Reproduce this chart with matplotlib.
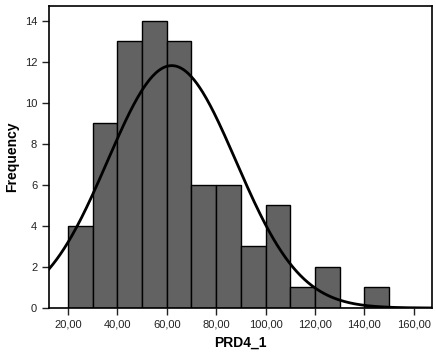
import numpy as np
import matplotlib.pyplot as plt
from matplotlib.ticker import FuncFormatter

plt.rcParams['font.family'] = ['Liberation Sans', 'DejaVu Sans']

# Histogram bins (width 10) and counts of PRD4_1
bin_edges = [20, 30, 40, 50, 60, 70, 80, 90, 100, 110, 120, 130, 140, 150]
counts = [4, 9, 13, 14, 13, 6, 6, 3, 5, 1, 2, 0, 1]

# Normal curve parameters
curve_mean = 62.0
curve_sd = 26.0

fig = plt.figure(figsize=(4.36, 3.6), dpi=100)
ax = fig.add_axes([0.1124, 0.1444, 0.8784, 0.8389])

lefts = bin_edges[:-1]
widths = np.diff(bin_edges)
ax.bar(lefts, counts, width=widths, align='edge', color='#626262',
       edgecolor='black', linewidth=1.0, zorder=2)

n = sum(counts)
bw = widths[0]
xs = np.linspace(12.3, 167.4, 400)
ys = n * bw / (curve_sd * np.sqrt(2 * np.pi)) * np.exp(-0.5 * ((xs - curve_mean) / curve_sd) ** 2)
ax.plot(xs, ys, color='black', linewidth=2.0, zorder=3)

ax.set_xlim(12.3, 167.4)
ax.set_ylim(0, 14.72)
ax.set_xticks(range(20, 161, 20))
ax.xaxis.set_major_formatter(FuncFormatter(lambda v, p: f"{v:.2f}".replace('.', ',')))
ax.set_yticks(range(0, 15, 2))
ax.tick_params(direction='out', length=5, width=1, labelsize=8, colors='#222222')
ax.tick_params(axis='x', top=False)
for s in ax.spines.values():
    s.set_linewidth(1.2)

ax.set_xlabel('PRD4_1', fontsize=10, fontweight='bold')
ax.set_ylabel('Frequency', fontsize=10, fontweight='bold')

fig.savefig('out.png', dpi=100)
